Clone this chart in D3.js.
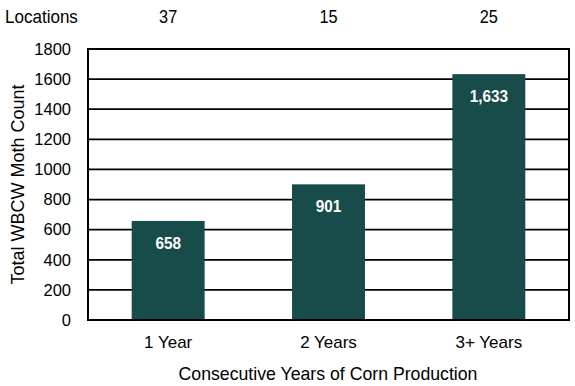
<!DOCTYPE html>
<html><head><meta charset="utf-8">
<script src="https://cdn.jsdelivr.net/npm/d3@7"></script>
<style>body{margin:0;background:#fff}svg{display:block}</style>
</head><body>
<script>
const categories = ["1 Year", "2 Years", "3+ Years"];
const values = [658, 901, 1633];
const locations = [37, 15, 25];
const yTicks = [0, 200, 400, 600, 800, 1000, 1200, 1400, 1600, 1800];

const W = 575, H = 386;
const FONT = "'Liberation Sans Narrow', 'Arial Narrow', 'Liberation Sans', Arial, sans-serif";
const m = {left: 88, right: 6, top: 49, bottom: 66};
const svg = d3.select("body").append("svg").attr("width", W).attr("height", H);

function condense(sel, f) {
  sel.each(function() {
    const len = this.getComputedTextLength();
    d3.select(this).attr("textLength", len * f).attr("lengthAdjust", "spacingAndGlyphs");
  });
}

const x = d3.scaleBand().domain(categories).range([m.left, W - m.right]).paddingInner(0.545).paddingOuter(0.2725);
const y = d3.scaleLinear().domain([0, 1800]).range([H - m.bottom, m.top]);

// gridlines
svg.append("g").selectAll("line").data(yTicks.slice(1, -1)).join("line")
  .attr("x1", m.left).attr("x2", W - m.right)
  .attr("y1", d => y(d)).attr("y2", d => y(d))
  .attr("stroke", "#000").attr("stroke-width", 1.8);

// bars
svg.append("g").selectAll("rect").data(values).join("rect")
  .attr("x", (d, i) => x(categories[i])).attr("width", x.bandwidth())
  .attr("y", d => y(d)).attr("height", d => y(0) - y(d))
  .attr("fill", "#184C4B");

// frame
svg.append("rect").attr("x", m.left).attr("y", m.top)
  .attr("width", W - m.right - m.left).attr("height", H - m.bottom - m.top)
  .attr("fill", "none").attr("stroke", "#000").attr("stroke-width", 2);

// value labels
const vl = svg.append("g").selectAll("text").data(values).join("text")
  .attr("x", (d, i) => x(categories[i]) + x.bandwidth() / 2)
  .attr("y", d => y(d) + 28)
  .attr("text-anchor", "middle").attr("fill", "#fff")
  .attr("font-family", FONT).attr("font-weight", "bold").attr("font-size", 17)
  .text(d => d3.format(",")(d));
condense(vl, 0.9);

// y axis
const yAxis = d3.axisLeft(y).tickValues(yTicks).tickSize(0).tickPadding(17).tickFormat(d3.format("d"));
const gy = svg.append("g").attr("transform", `translate(${m.left},0)`).call(yAxis);
gy.select(".domain").remove();
gy.selectAll("text").attr("font-family", FONT).attr("font-size", 16.5).attr("fill", "#000");

// x axis
const xAxis = d3.axisBottom(x).tickSize(0).tickPadding(16);
const gx = svg.append("g").attr("transform", `translate(0,${H - m.bottom})`).call(xAxis);
gx.select(".domain").remove();
gx.selectAll("text").attr("font-family", FONT).attr("font-size", 17).attr("fill", "#000");

// axis titles
svg.append("text").attr("transform", `translate(24,${(m.top + H - m.bottom) / 2}) rotate(-90)`)
  .attr("text-anchor", "middle").attr("font-family", FONT).attr("font-size", 18).text("Total WBCW Moth Count");
svg.append("text").attr("x", (m.left + W - m.right) / 2 - 0.5).attr("y", 380)
  .attr("text-anchor", "middle").attr("font-family", FONT).attr("font-size", 17.7).text("Consecutive Years of Corn Production");

// locations row
const lt = svg.append("text").attr("x", 5).attr("y", 23).attr("font-family", FONT).attr("font-size", 18.5)
  .text("Locations");
condense(lt, 0.92);
const ln = svg.append("g").selectAll("text").data(locations).join("text")
  .attr("x", (d, i) => x(categories[i]) + x.bandwidth() / 2).attr("y", 23)
  .attr("text-anchor", "middle").attr("font-family", FONT).attr("font-size", 18.5).text(d => d);
condense(ln, 0.88);
</script>
</body></html>
